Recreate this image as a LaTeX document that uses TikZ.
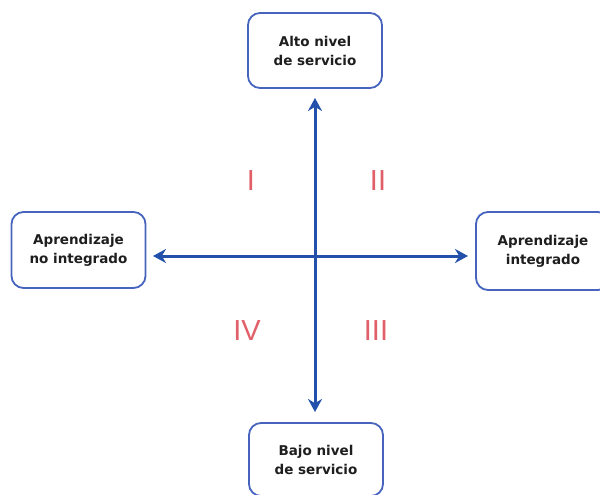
\documentclass[tikz,border=0pt]{standalone}
\usepackage{fontspec}
\setmainfont{DejaVu Sans}
\newfontfamily\numfont{Liberation Sans}
\usetikzlibrary{arrows.meta}
\definecolor{boxblue}{RGB}{70,100,190}
\definecolor{axisblue}{RGB}{35,80,170}
\definecolor{numred}{RGB}{225,95,105}
\definecolor{txtgray}{RGB}{30,30,30}
\tikzset{
  qbox/.style={draw=boxblue,line width=1.8pt,rounded corners=12pt,fill=white,
    minimum width=134pt,align=center,text=txtgray,
    font=\fontsize{13.5}{19}\selectfont\bfseries},
  axis/.style={draw=axisblue,line width=3pt,{Stealth[length=13pt,width=14pt]}-{Stealth[length=13pt,width=14pt]}},
  numlabel/.style={text=numred,font=\numfont\fontsize{29}{30}\selectfont}
}
\begin{document}
\begin{tikzpicture}[x=1pt,y=-1pt]
\useasboundingbox (0,0) rectangle (600,495);
\clip (0,0) rectangle (600,495);
\node[qbox,minimum height=75pt] (top) at (315,50.5) {Alto nivel\\de servicio};
\node[qbox,minimum height=76pt] (left) at (78.5,250) {Aprendizaje\\no integrado};
\node[qbox,minimum height=78pt] (right) at (543,251) {Aprendizaje\\integrado};
\node[qbox,minimum height=73pt] (bottom) at (316,459.5) {Bajo nivel\\de servicio};
\coordinate (vtop) at (315,98);
\coordinate (vbot) at (315,412);
\coordinate (hleft) at (153,256);
\coordinate (hright) at (468,256);
\draw[axis] (vbot) -- (vtop);
\draw[axis] (hleft) -- (hright);
\node[numlabel] (q1) at (251,181) {I};
\node[numlabel] (q2) at (378,181) {II};
\node[numlabel] (q4) at (247,331) {IV};
\node[numlabel] (q3) at (376,331) {III};
\end{tikzpicture}
\end{document}
